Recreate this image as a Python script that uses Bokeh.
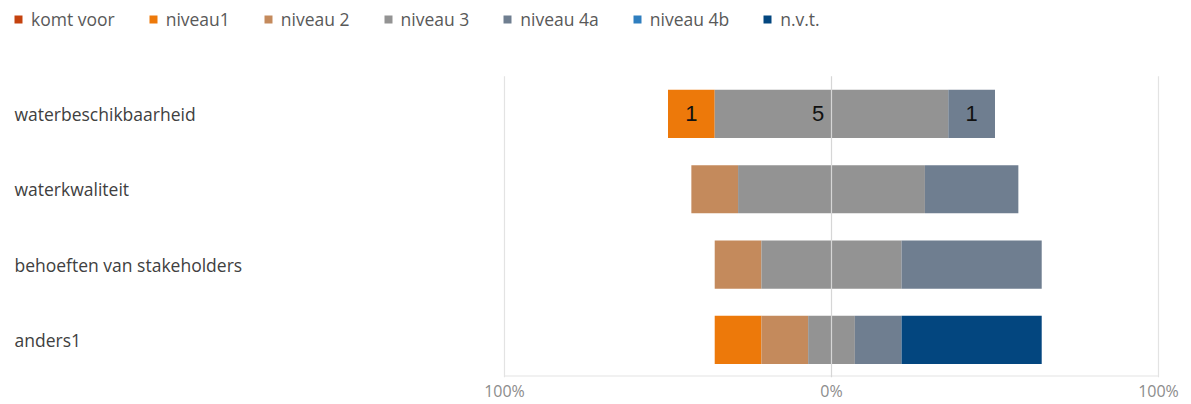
from bokeh.plotting import figure
from bokeh.models import Range1d, FixedTicker, Legend, LegendItem, ColumnDataSource
from bokeh.core.properties import value
from bokeh.embed import file_html
from bokeh.resources import INLINE

# ---------------- data ----------------
categories = ["waterbeschikbaarheid", "waterkwaliteit", "behoeften van stakeholders", "anders1"]
series_names = ["komt voor", "niveau1", "niveau 2", "niveau 3", "niveau 4a", "niveau 4b", "n.v.t."]
komt_voor = [0, 0, 0, 0]
niveau1 = [1, 0, 0, 1]
niveau2 = [0, 1, 1, 1]
niveau3 = [5, 4, 3, 1]
niveau4a = [1, 2, 3, 1]
niveau4b = [0, 0, 0, 0]
nvt = [0, 0, 0, 3]
tick_values = [-100, 0, 100]
tick_labels = ["100%", "0%", "100%"]
labeled_rows = [0]

colors = ["#C4420E", "#ED790A", "#C48A5C", "#939393", "#6F7E90", "#2F7EBF", "#03467F"]

# ---------------- layout constants ----------------
W, H = 1191, 404
BOTTOM = 26
FRAME_H = H - BOTTOM
PX_LEFT100, PX_RIGHT100 = 504, 1158
PXU = (PX_RIGHT100 - PX_LEFT100) / 200.0
x_start = -100 - PX_LEFT100 / PXU
x_end = 100 + (W - PX_RIGHT100) / PXU
BAND = 75.5
area_top_px = FRAME_H - 4 * BAND
y_top = -0.5 - area_top_px / BAND
label_x = x_start + 14 / PXU

font = "Open Sans"

counts = [komt_voor, niveau1, niveau2, niveau3, niveau4a, niveau4b, nvt]
n = len(categories)
totals = [sum(c[i] for c in counts) for i in range(n)]
pct = [[c[i] / totals[i] * 100 for i in range(n)] for c in counts]

# left starting point: everything below niveau 3 plus half of niveau 3 goes left
starts = [-(pct[0][i] + pct[1][i] + pct[2][i] + pct[3][i] / 2) for i in range(n)]

p = figure(width=W, height=H, x_range=Range1d(x_start, x_end), y_range=Range1d(3.5, y_top),
           output_backend="svg", toolbar_location=None, y_axis_location=None,
           min_border_left=0, min_border_right=0, min_border_top=0, min_border_bottom=BOTTOM)
p.outline_line_color = None
p.xgrid.grid_line_color = None
p.ygrid.grid_line_color = None

# outer grid lines & bottom axis line
p.segment(x0=[-100, 100], y0=[-0.5, -0.5], x1=[-100, 100], y1=[3.5, 3.5],
          line_color="#e3e3e3", line_width=1.2)
p.segment(x0=[-100], y0=[3.48], x1=[100], y1=[3.48], line_color="#e3e3e3", line_width=1.2)

renderers = []
cum = list(starts)
ys = list(range(n))
for k, name in enumerate(series_names):
    lefts = cum[:]
    rights = [cum[i] + pct[k][i] for i in range(n)]
    src = ColumnDataSource(dict(y=ys, left=lefts, right=rights))
    r = p.hbar(y="y", left="left", right="right", height=0.64, source=src,
               fill_color=colors[k], line_color=None)
    renderers.append(r)
    cum = rights

# center line over bars
p.segment(x0=[0], y0=[-0.5], x1=[0], y1=[3.5], line_color="#d6d6d6", line_width=1.2)

# data labels
lx, ly, lt, la = [], [], [], []
for i in labeled_rows:
    c = starts[i]
    for k in range(len(series_names)):
        v = counts[k][i]
        w = pct[k][i]
        if v > 0:
            if series_names[k] == "niveau 3":
                lx.append(0 - 2.2)
                la.append("right")
            else:
                lx.append(c + w / 2)
                la.append("center")
            ly.append(i)
            lt.append(str(v))
        c += w
p.text(x=lx, y=ly, text=lt, text_align=la, text_baseline="middle",
       text_font=value("Liberation Sans"), text_font_size="22px", text_color="#111111")

# category labels
p.text(x=[label_x] * n, y=ys, text=categories, text_align="left", text_baseline="middle",
       text_font=value(font), text_font_size="17.5px", text_color="#404040")

# x axis
xa = p.xaxis[0]
xa.ticker = FixedTicker(ticks=tick_values)
xa.major_label_overrides = {t: l for t, l in zip(tick_values, tick_labels)}
xa.axis_line_color = None
xa.major_tick_line_color = None
xa.minor_tick_line_color = None
xa.major_tick_out = 0
xa.major_tick_in = 0
xa.minor_tick_out = 0
xa.minor_tick_in = 0
xa.major_label_standoff = 2
xa.major_label_text_font = font
xa.major_label_text_font_size = "16px"
xa.major_label_text_color = "#8c8c8c"

legend = Legend(items=[LegendItem(label=name, renderers=[renderers[k]]) for k, name in enumerate(series_names)],
                orientation="horizontal", location=(13, FRAME_H - 32),
                glyph_width=10, glyph_height=10, label_standoff=8, spacing=33,
                label_text_font=font, label_text_font_size="17.5px", label_text_color="#595959",
                padding=0, margin=0, border_line_color=None, background_fill_alpha=0)
p.add_layout(legend)

open("out.html", "w").write(file_html(p, INLINE))
